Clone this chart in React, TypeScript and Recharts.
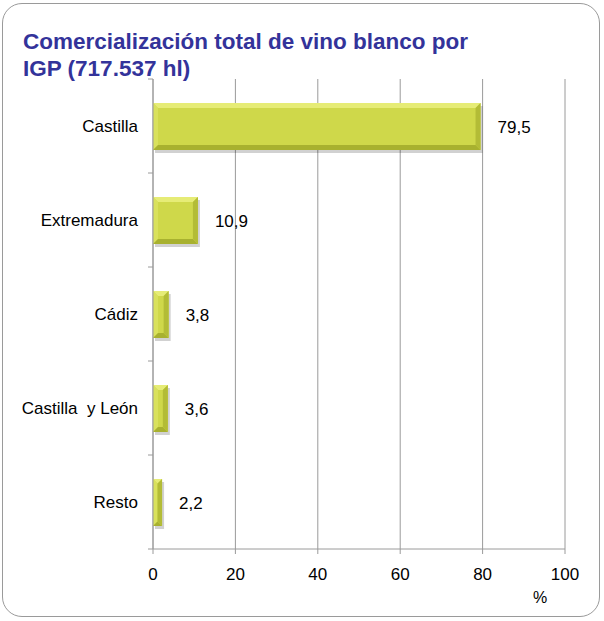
import { BarChart, Bar, XAxis, YAxis, CartesianGrid, LabelList } from "recharts";

const regions = ["Castilla", "Extremadura", "Cádiz", "Castilla\u00a0 y León", "Resto"];
const shares = [79.5, 10.9, 3.8, 3.6, 2.2];
const xTicks = [0, 20, 40, 60, 80, 100];

const data = regions.map((name, i) => ({ name, value: shares[i] }));

const FONT = "'Liberation Sans', Arial, sans-serif";
const AXIS = "#9a9a9a";

// bar with a bevelled edge and a soft shadow, like the spreadsheet original
function BevelBar(props: any) {
  const x = Number(props.x);
  const y = Number(props.y);
  const width = Number(props.width);
  const height = Number(props.height);
  if (!(width > 0) || !(height > 0)) return <g />;
  const b = Math.min(5, width / 2, height / 2);
  const r = x + width;
  const btm = y + height;
  return (
    <g>
      <rect x={x + 2} y={y + 3} width={width} height={height} fill="rgba(0,0,0,0.18)" />
      <rect x={x} y={y} width={width} height={height} fill="#cfd84a" />
      <polygon points={`${x},${y} ${r},${y} ${r - b},${y + b} ${x + b},${y + b}`} fill="#e6ec76" />
      <polygon points={`${x},${y} ${x + b},${y + b} ${x + b},${btm - b} ${x},${btm}`} fill="#d9e15c" />
      <polygon points={`${x},${btm} ${x + b},${btm - b} ${r - b},${btm - b} ${r},${btm}`} fill="#a8b12f" />
      <polygon points={`${r},${y} ${r},${btm} ${r - b},${btm - b} ${r - b},${y + b}`} fill="#b3bc36" />
    </g>
  );
}

function CategoryTick(props: any) {
  const { x, y, payload, index } = props;
  const half = payload?.offset ?? 47;
  const ax = x + 8;
  return (
    <g>
      {index === 0 && <line x1={ax - 5} x2={ax} y1={y - half} y2={y - half} stroke={AXIS} />}
      <line x1={ax - 5} x2={ax} y1={y + half} y2={y + half} stroke={AXIS} />
      <text x={ax - 15} y={y} dy="0.35em" textAnchor="end" fontSize={17} fill="#000" fontFamily={FONT}>
        {payload.value}
      </text>
    </g>
  );
}

export default function App() {
  return (
    <div style={{ position: "absolute", left: 0, top: 0, width: 604, height: 621, background: "#fff" }}>
      <div
        style={{
          position: "absolute",
          left: 2,
          top: 3,
          width: 598,
          height: 614,
          border: "1.5px solid #9a9a9a",
          borderRadius: 20,
          boxSizing: "border-box",
        }}
      />
      <div
        style={{
          position: "absolute",
          left: 23,
          top: 28,
          fontFamily: FONT,
          fontWeight: "bold",
          fontSize: 22.5,
          lineHeight: "27px",
          color: "#33339a",
        }}
      >
        Comercialización total de vino blanco por
        <br />
        IGP (717.537 hl)
      </div>
      <BarChart
        width={604}
        height={621}
        data={data}
        layout="vertical"
        margin={{ top: 79, right: 39, bottom: 42, left: 8 }}
        barSize={47}
      >
        <CartesianGrid horizontal={false} stroke={AXIS} />
        <XAxis
          type="number"
          domain={[0, 100]}
          ticks={xTicks}
          axisLine={{ stroke: AXIS }}
          tickLine={{ stroke: AXIS }}
          tickSize={5}
          tickMargin={14}
          tick={{ fontSize: 17, fill: "#000", fontFamily: FONT }}
          height={30}
        />
        <YAxis
          type="category"
          dataKey="name"
          width={145}
          axisLine={{ stroke: AXIS }}
          tickLine={false}
          tick={<CategoryTick />}
          interval={0}
        />
        <Bar
          dataKey="value"
          fill="#cfd84a"
          shape={(p: any) => <BevelBar {...p} />}
          isAnimationActive={false}
        >
          <LabelList
            dataKey="value"
            position="right"
            offset={17}
            formatter={(v: any) => String(v).replace(".", ",")}
            style={{ fontSize: 17, fill: "#000", fontFamily: FONT }}
          />
        </Bar>
      </BarChart>
      <div style={{ position: "absolute", left: 533, top: 589, fontFamily: FONT, fontSize: 16, color: "#000" }}>
        %
      </div>
    </div>
  );
}
